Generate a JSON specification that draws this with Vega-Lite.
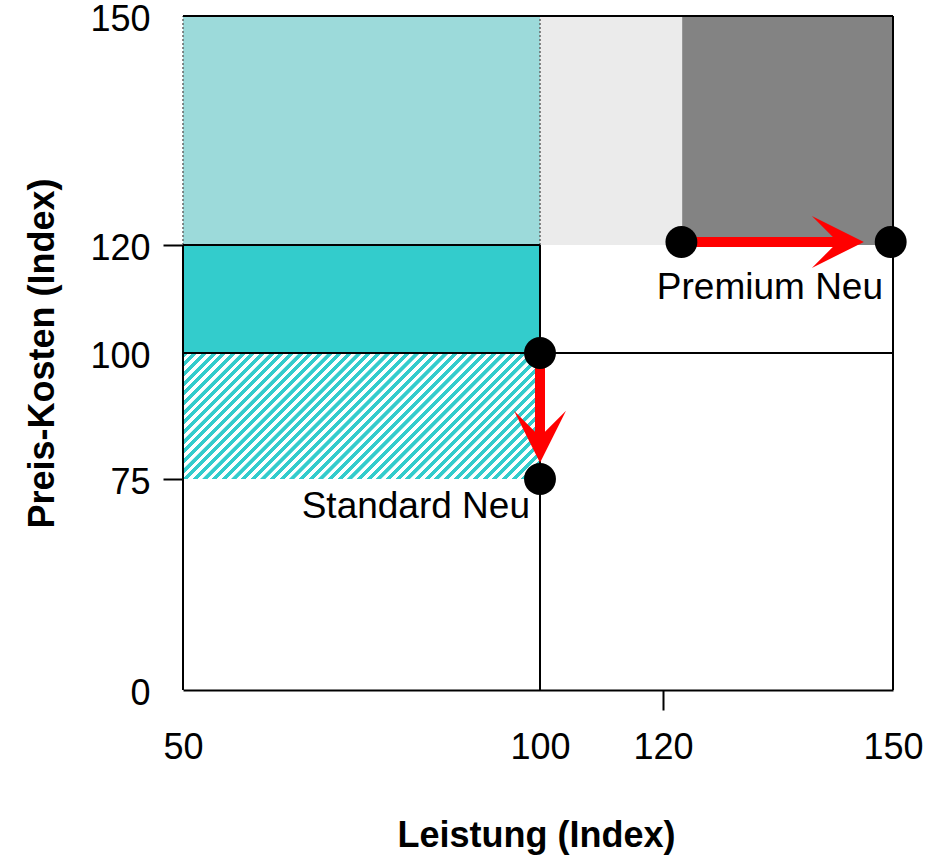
{
  "$schema": "https://vega.github.io/schema/vega-lite/v6.json",
  "width": 710,
  "height": 674,
  "autosize": {"type": "none"},
  "padding": {"left": 183, "top": 16, "right": 57, "bottom": 166},
  "background": "white",
  "config": {"view": {"stroke": null}, "font": "Liberation Sans"},
  "datasets": {
    "flaechen": [
      {"bereich": "A", "x": 50, "x2": 100, "y": 120, "y2": 150},
      {"bereich": "B", "x": 100, "x2": 122.5, "y": 120, "y2": 150},
      {"bereich": "C", "x": 122.5, "x2": 150, "y": 120, "y2": 150},
      {"bereich": "D", "x": 50, "x2": 100, "y": 100, "y2": 120},
      {"bereich": "E", "x": 50, "x2": 100, "y": 75, "y2": 100}
    ],
    "linien": [
      {"typ": "Rand", "x": 50, "x2": 50, "y": 0, "y2": 120},
      {"typ": "Rand", "x": 150, "x2": 150, "y": 0, "y2": 150},
      {"typ": "Rand", "x": 50, "x2": 150, "y": 150, "y2": 150},
      {"typ": "Rand", "x": 50, "x2": 150, "y": 100, "y2": 100},
      {"typ": "Rand", "x": 50, "x2": 100, "y": 120, "y2": 120},
      {"typ": "Rand", "x": 100, "x2": 100, "y": 0, "y2": 120},
      {"typ": "Raster", "x": 50, "x2": 50, "y": 120, "y2": 150},
      {"typ": "Raster", "x": 100, "x2": 100, "y": 120, "y2": 150}
    ],
    "pfeile": [
      {"richtung": "rechts", "x": 122.4, "x2": 144, "y": 120.4, "y2": 120.4},
      {"richtung": "unten", "x": 100, "x2": 100, "y": 100, "y2": 82}
    ],
    "spitzen": [
      {"richtung": "rechts", "x": 146.2, "y": 120.4},
      {"richtung": "unten", "x": 100, "y": 78.2}
    ],
    "punkte": [
      {"produkt": "Premium alt", "x": 122.4, "y": 120.4},
      {"produkt": "Premium Neu", "x": 149.7, "y": 120.4},
      {"produkt": "Standard alt", "x": 100, "y": 100},
      {"produkt": "Standard Neu", "x": 100, "y": 75}
    ],
    "beschriftung": [
      {"text": "Premium Neu", "x": 148.7, "y": 110},
      {"text": "Standard Neu", "x": 98.6, "y": 61.1}
    ]
  },
  "encoding": {
    "x": {
      "field": "x", "type": "quantitative",
      "scale": {"type": "linear", "domain": [50, 100, 120, 150], "range": [0, 357, 480, 710], "nice": false, "zero": false},
      "axis": {
        "values": [50, 100, 120, 150], "format": "d", "grid": false,
        "domain": true, "domainColor": "black", "domainWidth": 2,
        "ticks": true, "tickSize": 20, "tickWidth": 2, "tickColor": "black",
        "tickOpacity": {"condition": {"test": "datum.value == 120", "value": 1}, "value": 0},
        "labelFontSize": 36, "labelColor": "black", "labelPadding": 20, "labelFlush": false, "labelOverlap": false,
        "title": "Leistung (Index)", "titleFontSize": 36, "titleFontWeight": "bold", "titleColor": "black",
        "titleX": 353, "titleY": 145, "titleAlign": "center", "titleBaseline": "middle"
      }
    },
    "y": {
      "field": "y", "type": "quantitative",
      "scale": {"type": "linear", "domain": [0, 75, 100, 120, 150], "range": [674, 463, 337, 229, 0], "nice": false, "zero": false},
      "axis": {
        "values": [0, 75, 100, 120, 150], "format": "d", "grid": false,
        "domain": false,
        "ticks": true, "tickSize": 20, "tickWidth": 2, "tickColor": "black",
        "tickOpacity": {"condition": {"test": "datum.value == 120 || datum.value == 75", "value": 1}, "value": 0},
        "labelFontSize": 36, "labelColor": "black", "labelPadding": 13, "labelBaseline": "middle", "labelOffset": 3, "labelFlush": false, "labelOverlap": false,
        "title": "Preis-Kosten (Index)", "titleFontSize": 36, "titleFontWeight": "bold", "titleColor": "black",
        "titleX": -141, "titleY": 337, "titleAngle": -90, "titleAlign": "center", "titleBaseline": "middle"
      }
    }
  },
  "layer": [
    {
      "data": {"name": "flaechen"},
      "transform": [{"filter": "datum.bereich != 'E'"}],
      "mark": {"type": "rect", "opacity": 1, "strokeWidth": 0},
      "encoding": {
        "x2": {"field": "x2"},
        "y2": {"field": "y2"},
        "color": {"field": "bereich", "type": "nominal", "scale": {"domain": ["A", "B", "C", "D"], "range": ["#9cdada", "#ebebeb", "#838383", "#33cccc"]}, "legend": null}
      }
    },
    {
      "data": {"name": "flaechen"},
      "transform": [{"filter": "datum.bereich == 'E'"}],
      "mark": {
        "type": "rect", "opacity": 1, "strokeWidth": 0,
        "fill": {
          "gradient": "linear", "x1": 0, "y1": 0, "x2": 1.2031, "y2": 0.4246,
          "stops": [
            {"offset": 0, "color": "#fff"}, {"offset": 0.0005, "color": "#3cc"}, {"offset": 0.0105, "color": "#3cc"}, {"offset": 0.011, "color": "#fff"},
            {"offset": 0.02, "color": "#fff"}, {"offset": 0.0205, "color": "#3cc"}, {"offset": 0.0305, "color": "#3cc"}, {"offset": 0.031, "color": "#fff"},
            {"offset": 0.04, "color": "#fff"}, {"offset": 0.0405, "color": "#3cc"}, {"offset": 0.0505, "color": "#3cc"}, {"offset": 0.051, "color": "#fff"},
            {"offset": 0.06, "color": "#fff"}, {"offset": 0.0605, "color": "#3cc"}, {"offset": 0.0705, "color": "#3cc"}, {"offset": 0.071, "color": "#fff"},
            {"offset": 0.08, "color": "#fff"}, {"offset": 0.0805, "color": "#3cc"}, {"offset": 0.0905, "color": "#3cc"}, {"offset": 0.091, "color": "#fff"},
            {"offset": 0.10, "color": "#fff"}, {"offset": 0.1005, "color": "#3cc"}, {"offset": 0.1105, "color": "#3cc"}, {"offset": 0.111, "color": "#fff"},
            {"offset": 0.12, "color": "#fff"}, {"offset": 0.1205, "color": "#3cc"}, {"offset": 0.1305, "color": "#3cc"}, {"offset": 0.131, "color": "#fff"},
            {"offset": 0.14, "color": "#fff"}, {"offset": 0.1405, "color": "#3cc"}, {"offset": 0.1505, "color": "#3cc"}, {"offset": 0.151, "color": "#fff"},
            {"offset": 0.16, "color": "#fff"}, {"offset": 0.1605, "color": "#3cc"}, {"offset": 0.1705, "color": "#3cc"}, {"offset": 0.171, "color": "#fff"},
            {"offset": 0.18, "color": "#fff"}, {"offset": 0.1805, "color": "#3cc"}, {"offset": 0.1905, "color": "#3cc"}, {"offset": 0.191, "color": "#fff"},
            {"offset": 0.20, "color": "#fff"}, {"offset": 0.2005, "color": "#3cc"}, {"offset": 0.2105, "color": "#3cc"}, {"offset": 0.211, "color": "#fff"},
            {"offset": 0.22, "color": "#fff"}, {"offset": 0.2205, "color": "#3cc"}, {"offset": 0.2305, "color": "#3cc"}, {"offset": 0.231, "color": "#fff"},
            {"offset": 0.24, "color": "#fff"}, {"offset": 0.2405, "color": "#3cc"}, {"offset": 0.2505, "color": "#3cc"}, {"offset": 0.251, "color": "#fff"},
            {"offset": 0.26, "color": "#fff"}, {"offset": 0.2605, "color": "#3cc"}, {"offset": 0.2705, "color": "#3cc"}, {"offset": 0.271, "color": "#fff"},
            {"offset": 0.28, "color": "#fff"}, {"offset": 0.2805, "color": "#3cc"}, {"offset": 0.2905, "color": "#3cc"}, {"offset": 0.291, "color": "#fff"},
            {"offset": 0.30, "color": "#fff"}, {"offset": 0.3005, "color": "#3cc"}, {"offset": 0.3105, "color": "#3cc"}, {"offset": 0.311, "color": "#fff"},
            {"offset": 0.32, "color": "#fff"}, {"offset": 0.3205, "color": "#3cc"}, {"offset": 0.3305, "color": "#3cc"}, {"offset": 0.331, "color": "#fff"},
            {"offset": 0.34, "color": "#fff"}, {"offset": 0.3405, "color": "#3cc"}, {"offset": 0.3505, "color": "#3cc"}, {"offset": 0.351, "color": "#fff"},
            {"offset": 0.36, "color": "#fff"}, {"offset": 0.3605, "color": "#3cc"}, {"offset": 0.3705, "color": "#3cc"}, {"offset": 0.371, "color": "#fff"},
            {"offset": 0.38, "color": "#fff"}, {"offset": 0.3805, "color": "#3cc"}, {"offset": 0.3905, "color": "#3cc"}, {"offset": 0.391, "color": "#fff"},
            {"offset": 0.40, "color": "#fff"}, {"offset": 0.4005, "color": "#3cc"}, {"offset": 0.4105, "color": "#3cc"}, {"offset": 0.411, "color": "#fff"},
            {"offset": 0.42, "color": "#fff"}, {"offset": 0.4205, "color": "#3cc"}, {"offset": 0.4305, "color": "#3cc"}, {"offset": 0.431, "color": "#fff"},
            {"offset": 0.44, "color": "#fff"}, {"offset": 0.4405, "color": "#3cc"}, {"offset": 0.4505, "color": "#3cc"}, {"offset": 0.451, "color": "#fff"},
            {"offset": 0.46, "color": "#fff"}, {"offset": 0.4605, "color": "#3cc"}, {"offset": 0.4705, "color": "#3cc"}, {"offset": 0.471, "color": "#fff"},
            {"offset": 0.48, "color": "#fff"}, {"offset": 0.4805, "color": "#3cc"}, {"offset": 0.4905, "color": "#3cc"}, {"offset": 0.491, "color": "#fff"},
            {"offset": 0.50, "color": "#fff"}, {"offset": 0.5005, "color": "#3cc"}, {"offset": 0.5105, "color": "#3cc"}, {"offset": 0.511, "color": "#fff"},
            {"offset": 0.52, "color": "#fff"}, {"offset": 0.5205, "color": "#3cc"}, {"offset": 0.5305, "color": "#3cc"}, {"offset": 0.531, "color": "#fff"},
            {"offset": 0.54, "color": "#fff"}, {"offset": 0.5405, "color": "#3cc"}, {"offset": 0.5505, "color": "#3cc"}, {"offset": 0.551, "color": "#fff"},
            {"offset": 0.56, "color": "#fff"}, {"offset": 0.5605, "color": "#3cc"}, {"offset": 0.5705, "color": "#3cc"}, {"offset": 0.571, "color": "#fff"},
            {"offset": 0.58, "color": "#fff"}, {"offset": 0.5805, "color": "#3cc"}, {"offset": 0.5905, "color": "#3cc"}, {"offset": 0.591, "color": "#fff"},
            {"offset": 0.60, "color": "#fff"}, {"offset": 0.6005, "color": "#3cc"}, {"offset": 0.6105, "color": "#3cc"}, {"offset": 0.611, "color": "#fff"},
            {"offset": 0.62, "color": "#fff"}, {"offset": 0.6205, "color": "#3cc"}, {"offset": 0.6305, "color": "#3cc"}, {"offset": 0.631, "color": "#fff"},
            {"offset": 0.64, "color": "#fff"}, {"offset": 0.6405, "color": "#3cc"}, {"offset": 0.6505, "color": "#3cc"}, {"offset": 0.651, "color": "#fff"},
            {"offset": 0.66, "color": "#fff"}, {"offset": 0.6605, "color": "#3cc"}, {"offset": 0.6705, "color": "#3cc"}, {"offset": 0.671, "color": "#fff"},
            {"offset": 0.68, "color": "#fff"}, {"offset": 0.6805, "color": "#3cc"}, {"offset": 0.6905, "color": "#3cc"}, {"offset": 0.691, "color": "#fff"},
            {"offset": 0.70, "color": "#fff"}, {"offset": 0.7005, "color": "#3cc"}, {"offset": 0.7105, "color": "#3cc"}, {"offset": 0.711, "color": "#fff"},
            {"offset": 0.72, "color": "#fff"}, {"offset": 0.7205, "color": "#3cc"}, {"offset": 0.7305, "color": "#3cc"}, {"offset": 0.731, "color": "#fff"},
            {"offset": 0.74, "color": "#fff"}, {"offset": 0.7405, "color": "#3cc"}, {"offset": 0.7505, "color": "#3cc"}, {"offset": 0.751, "color": "#fff"},
            {"offset": 0.76, "color": "#fff"}, {"offset": 0.7605, "color": "#3cc"}, {"offset": 0.7705, "color": "#3cc"}, {"offset": 0.771, "color": "#fff"},
            {"offset": 0.78, "color": "#fff"}, {"offset": 0.7805, "color": "#3cc"}, {"offset": 0.7905, "color": "#3cc"}, {"offset": 0.791, "color": "#fff"},
            {"offset": 0.80, "color": "#fff"}, {"offset": 0.8005, "color": "#3cc"}, {"offset": 0.8105, "color": "#3cc"}, {"offset": 0.811, "color": "#fff"},
            {"offset": 0.82, "color": "#fff"}, {"offset": 0.8205, "color": "#3cc"}, {"offset": 0.8305, "color": "#3cc"}, {"offset": 0.831, "color": "#fff"},
            {"offset": 0.84, "color": "#fff"}, {"offset": 0.8405, "color": "#3cc"}, {"offset": 0.8505, "color": "#3cc"}, {"offset": 0.851, "color": "#fff"},
            {"offset": 0.86, "color": "#fff"}, {"offset": 0.8605, "color": "#3cc"}, {"offset": 0.8705, "color": "#3cc"}, {"offset": 0.871, "color": "#fff"},
            {"offset": 0.88, "color": "#fff"}, {"offset": 0.8805, "color": "#3cc"}, {"offset": 0.8905, "color": "#3cc"}, {"offset": 0.891, "color": "#fff"},
            {"offset": 0.90, "color": "#fff"}, {"offset": 0.9005, "color": "#3cc"}, {"offset": 0.9105, "color": "#3cc"}, {"offset": 0.911, "color": "#fff"},
            {"offset": 0.92, "color": "#fff"}, {"offset": 0.9205, "color": "#3cc"}, {"offset": 0.9305, "color": "#3cc"}, {"offset": 0.931, "color": "#fff"},
            {"offset": 0.94, "color": "#fff"}, {"offset": 0.9405, "color": "#3cc"}, {"offset": 0.9505, "color": "#3cc"}, {"offset": 0.951, "color": "#fff"},
            {"offset": 0.96, "color": "#fff"}, {"offset": 0.9605, "color": "#3cc"}, {"offset": 0.9705, "color": "#3cc"}, {"offset": 0.971, "color": "#fff"},
            {"offset": 0.98, "color": "#fff"}, {"offset": 0.9805, "color": "#3cc"}, {"offset": 0.9905, "color": "#3cc"}, {"offset": 0.991, "color": "#fff"}
          ]
        }
      },
      "encoding": {
        "x2": {"field": "x2"},
        "y2": {"field": "y2"}
      }
    },
    {
      "data": {"name": "linien"},
      "transform": [{"filter": "datum.typ == 'Raster'"}],
      "mark": {"type": "rule", "color": "#666666", "strokeWidth": 1.5, "strokeDash": [2, 2]},
      "encoding": {"x2": {"field": "x2"}, "y2": {"field": "y2"}}
    },
    {
      "data": {"name": "linien"},
      "transform": [{"filter": "datum.typ == 'Rand'"}],
      "mark": {"type": "rule", "color": "black", "strokeWidth": 2},
      "encoding": {"x2": {"field": "x2"}, "y2": {"field": "y2"}}
    },
    {
      "data": {"name": "pfeile"},
      "mark": {"type": "rule", "color": "#ff0000", "strokeWidth": 10, "strokeCap": "butt"},
      "encoding": {"x2": {"field": "x2"}, "y2": {"field": "y2"}}
    },
    {
      "data": {"name": "spitzen"},
      "transform": [{"filter": "datum.richtung == 'rechts'"}],
      "mark": {"type": "point", "shape": "M0,0L-2,-1L-1,0L-2,1Z", "filled": true, "size": 2704, "color": "#ff0000", "opacity": 1, "strokeWidth": 0, "angle": 0}
    },
    {
      "data": {"name": "spitzen"},
      "transform": [{"filter": "datum.richtung == 'unten'"}],
      "mark": {"type": "point", "shape": "M0,0L-2,-1L-1,0L-2,1Z", "filled": true, "size": 2704, "color": "#ff0000", "opacity": 1, "strokeWidth": 0, "angle": 90}
    },
    {
      "data": {"name": "punkte"},
      "mark": {"type": "point", "shape": "circle", "filled": true, "size": 1018, "color": "black", "opacity": 1, "strokeWidth": 0}
    },
    {
      "data": {"name": "beschriftung"},
      "mark": {"type": "text", "align": "right", "baseline": "alphabetic", "fontSize": 37, "color": "black"},
      "encoding": {"text": {"field": "text"}}
    }
  ]
}
